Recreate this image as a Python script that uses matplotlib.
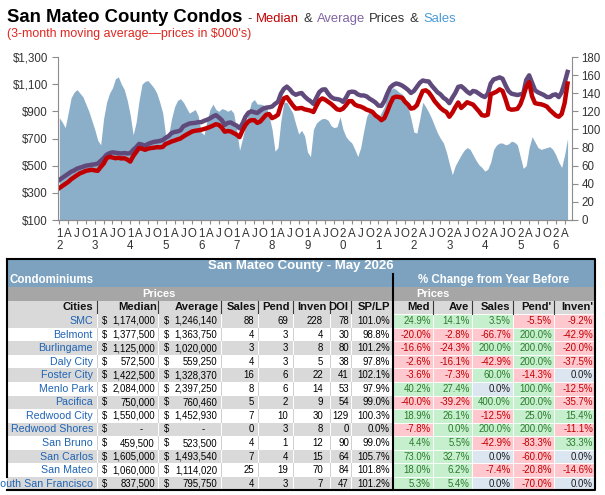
import matplotlib
matplotlib.use('Agg')
import matplotlib.pyplot as plt
from matplotlib import font_manager as fm
from matplotlib.patches import Rectangle
import numpy as np
import pandas as pd

plt.rcParams['font.family'] = ['Liberation Sans', 'DejaVu Sans']

# monthly 3-month moving averages, Jan 2012 .. May 2026
months = pd.date_range('2012-01-01', periods=173, freq='MS')
median_k = [
    335, 350, 365, 380, 400, 415, 430, 444, 452, 462, 466, 470,
    465, 462, 490, 515, 555, 565, 560, 555, 558, 553, 555, 545,
    530, 570, 600, 630, 625, 617, 625, 630, 632, 636, 635, 638,
    660, 668, 678, 685, 693, 700, 715, 728, 740, 752, 757, 760,
    764, 770, 777, 785, 795, 805, 800, 780, 750, 755, 752, 740,
    728, 710, 760, 800, 826, 835, 835, 815, 825, 850, 875, 880,
    850, 860, 875, 945, 995, 1005, 975, 945, 920, 922, 925, 915,
    910, 905, 895, 940, 980, 995, 985, 970, 955, 935, 915, 910,
    920, 945, 975, 975, 950, 940, 935, 925, 912, 905, 895, 870,
    855, 835, 850, 900, 955, 1000, 1008, 1005, 1000, 970, 950, 920,
    925, 945, 1000, 1050, 1055, 1040, 1010, 975, 950, 925, 907, 895,
    860, 890, 930, 965, 925, 945, 967, 958, 950, 925, 900, 872,
    868, 875, 1025, 1035, 1045, 1062, 1050, 990, 920, 912, 914, 918,
    950, 1010, 1080, 1115, 1010, 960, 955, 952, 945, 935, 910, 890,
    870, 860, 880, 960, 1105]
average_k = [
    395, 410, 425, 440, 455, 465, 478, 485, 492, 500, 503, 507,
    510, 515, 535, 555, 580, 592, 598, 595, 592, 590, 593, 590,
    592, 615, 635, 660, 655, 647, 660, 668, 675, 678, 682, 688,
    705, 718, 740, 748, 752, 760, 790, 800, 810, 813, 815, 820,
    820, 830, 838, 848, 862, 872, 855, 835, 800, 815, 818, 805,
    795, 775, 810, 860, 890, 900, 893, 888, 905, 920, 927, 930,
    935, 955, 970, 1030, 1065, 1082, 1062, 1035, 1022, 1030, 1035, 1010,
    990, 975, 955, 1000, 1042, 1060, 1062, 1030, 1005, 993, 990, 985,
    970, 1000, 1040, 1045, 1042, 1025, 1017, 1017, 1010, 993, 980, 965,
    942, 940, 975, 1030, 1075, 1095, 1105, 1100, 1090, 1075, 1058, 1035,
    1050, 1080, 1110, 1127, 1122, 1120, 1090, 1065, 1040, 1025, 1000, 985,
    960, 1000, 1035, 1080, 1085, 1067, 1045, 1030, 1050, 1045, 1030, 1015,
    1005, 1030, 1105, 1135, 1142, 1150, 1140, 1092, 1050, 1030, 1025, 1020,
    1025, 1030, 1130, 1165, 1110, 1055, 1040, 1030, 1020, 1005, 1005, 1020,
    1025, 1005, 1040, 1110, 1190]
sales = [
    113, 108, 102, 118, 135, 141, 144, 140, 136, 128, 120, 110,
    100, 88, 83, 112, 130, 140, 146, 156, 158, 150, 144, 132,
    116, 94, 108, 132, 150, 153, 154, 150, 146, 140, 130, 118,
    93, 94, 112, 125, 132, 134, 130, 124, 118, 120, 122, 115,
    97, 94, 110, 122, 128, 122, 120, 123, 122, 120, 122, 118,
    100, 77, 90, 104, 118, 130, 133, 128, 128, 127, 125, 115,
    100, 76, 80, 110, 130, 130, 124, 118, 106, 95, 99, 93,
    75, 70, 100, 107, 110, 112, 112, 110, 104, 102, 103, 114,
    100, 92, 88, 85, 78, 70, 80, 98, 114, 121, 119, 115,
    112, 119, 125, 136, 143, 146, 144, 141, 139, 135, 125, 112,
    97, 96, 112, 130, 125, 119, 112, 104, 96, 90, 85, 75,
    62, 50, 60, 66, 72, 77, 80, 78, 72, 66, 61, 58,
    54, 56, 64, 78, 83, 85, 85, 83, 84, 87, 86, 83,
    70, 57, 60, 80, 92, 86, 80, 78, 79, 80, 81, 78,
    72, 64, 58, 72, 90]
price_ticks = [100, 300, 500, 700, 900, 1100, 1300]
sales_ticks = [0, 20, 40, 60, 80, 100, 120, 140, 160, 180]
quarter_letters = {1: None, 4: 'A', 7: 'J', 10: 'O'}

# table for May 2026
cities = ['SMC', 'Belmont', 'Burlingame', 'Daly City', 'Foster City', 'Menlo Park',
          'Pacifica', 'Redwood City', 'Redwood Shores', 'San Bruno', 'San Carlos',
          'San Mateo', 'South San Francisco']
median_price = [1174000, 1377500, 1125000, 572500, 1422500, 2084000, 750000,
                1550000, None, 459500, 1605000, 1060000, 837500]
average_price = [1246140, 1363750, 1020000, 559250, 1328370, 2397250, 760460,
                 1452930, None, 523500, 1493540, 1114020, 795750]
sales_n = [88, 4, 3, 4, 16, 8, 5, 7, 0, 4, 7, 25, 4]
pend = [69, 3, 3, 3, 6, 6, 2, 10, 3, 1, 4, 19, 3]
inven = [228, 4, 8, 5, 22, 14, 9, 30, 8, 12, 15, 70, 7]
doi = [78, 30, 80, 38, 41, 53, 54, 129, 0, 90, 64, 84, 47]
sp_lp = [101.0, 98.8, 101.2, 97.8, 102.1, 97.9, 99.0, 100.3, 0.0, 99.0, 105.7, 101.8, 101.2]
chg_med = [24.9, -20.0, -16.6, -2.6, -3.6, 40.2, -40.0, 18.9, -7.8, 4.4, 73.0, 18.0, 5.3]
chg_ave = [14.1, -2.8, -24.3, -16.1, -7.3, 27.4, -39.2, 26.1, 0.0, 5.5, 32.7, 6.2, 5.4]
chg_sales = [3.5, -66.7, 200.0, -42.9, 60.0, 0.0, 400.0, -12.5, 200.0, -42.9, 0.0, -7.4, 0.0]
chg_pend = [-5.5, 200.0, 200.0, 200.0, -14.3, 100.0, 200.0, 25.0, 200.0, -83.3, -60.0, -20.8, -70.0]
chg_inven = [-9.2, -42.9, -20.0, -37.5, 0.0, -12.5, -35.7, 15.4, -11.1, 33.3, 0.0, -14.6, 0.0]
zero_as_up = [(8, 1)]  # Redwood Shores / Ave shows green

# narrow font for the numbers if we have it
try:
    fm.findfont(fm.FontProperties(family='Liberation Sans Narrow'), fallback_to_default=False)
    NARROW, NUM_SIZE = ['Liberation Sans Narrow', 'DejaVu Sans'], 8.2
except ValueError:
    NARROW, NUM_SIZE = ['Liberation Sans', 'DejaVu Sans'], 6.9

W, H = 605, 495
fig = plt.figure(figsize=(W / 100, H / 100), dpi=100)

def fx(px):
    return px / W

def fy(py):
    return 1 - py / H

# ---- table (drawn in pixel coords) ----
tab = fig.add_axes([0, 0, 1, 1])
tab.set_xlim(0, W)
tab.set_ylim(H, 0)
tab.axis('off')
tab.patch.set_visible(False)
tab.set_zorder(-1)

BLUE_BG = '#7ca2bf'
GREY_BG = '#a6a6a6'
LIGHT_BG = '#d9d9d9'
X0, XM, X1 = 7, 393, 595
TOP, TITLE_H, ROW_H = 258.5, 15, 13.56
left_cols = [7, 97, 158, 221, 258, 293, 330, 351, 393]
right_cols = [393, 433, 472, 513, 554, 595]

def row_top(i):
    return TOP + TITLE_H + i * ROW_H

def rect(x0, y0, x1, y1, fc, ec='none', lw=0):
    tab.add_patch(Rectangle((x0, y0), x1 - x0, y1 - y0, fc=fc, ec=ec, lw=lw))

rect(X0, TOP, X1, TOP + TITLE_H, BLUE_BG)
rect(X0, row_top(0), X1, row_top(1), BLUE_BG)
rect(X0, row_top(1), X1, row_top(2), GREY_BG)
rect(X0, row_top(2), X1, row_top(3), LIGHT_BG)

tab.text((X0 + X1) / 2, TOP + TITLE_H / 2 + 0.5, 'San Mateo County - May 2026', ha='center',
         va='center', color='white', fontweight='bold', fontsize=9.5)
tab.text(10, row_top(0) + ROW_H / 2, 'Condominiums', ha='left', va='center',
         color='white', fontweight='bold', fontsize=8.3)
tab.text((XM + X1) / 2, row_top(0) + ROW_H / 2, '% Change from Year Before', ha='center',
         va='center', color='white', fontweight='bold', fontsize=8.3)
tab.text(159, row_top(1) + ROW_H / 2, 'Prices', ha='center', va='center',
         color='white', fontweight='bold', fontsize=8)
tab.text(433, row_top(1) + ROW_H / 2, 'Prices', ha='center', va='center',
         color='white', fontweight='bold', fontsize=8)

headers_left = [('Cities', 93), ('Median', 157), ('Average', 219), ('Sales', 256),
                ('Pend', 290), ('Inven', 327), ('DOI', 348), ('SP/LP', 390)]
headers_right = [('Med', 430), ('Ave', 469), ('Sales', 510), ("Pend'", 551), ("Inven'", 593)]
yh = row_top(2) + ROW_H / 2
for s, xr in headers_left + headers_right:
    tab.text(xr, yh, s, ha='right', va='center', fontweight='bold', fontsize=8.1, color='#111111')
for xv in left_cols[1:-1] + right_cols[1:-1]:
    tab.plot([xv, xv], [row_top(2), row_top(3)], color='#3a3a3a', lw=0.8)

changes = [chg_med, chg_ave, chg_sales, chg_pend, chg_inven]
for r, city in enumerate(cities):
    y0 = row_top(3 + r)
    y1 = y0 + ROW_H
    yc = (y0 + y1) / 2
    bg = LIGHT_BG if r % 2 == 0 else 'white'
    rect(X0, y0, XM, y1, bg)
    sep = 'white' if r % 2 == 0 else '#cfcfcf'
    for xv in left_cols[1:-1]:
        tab.plot([xv, xv], [y0, y1], color=sep, lw=0.7)
    tab.text(93, yc, city, ha='right', va='center', color='#1f64b4', fontsize=7.7)
    for xd, xv, val in [(102, 155, median_price[r]), (164, 217, average_price[r])]:
        tab.text(xd, yc, '$', ha='left', va='center', family=NARROW, fontsize=NUM_SIZE)
        if val is None:
            tab.text(xv - 12, yc, '-', ha='right', va='center', family=NARROW, fontsize=NUM_SIZE)
        else:
            tab.text(xv, yc, f'{val:,}', ha='right', va='center', family=NARROW, fontsize=NUM_SIZE)
    for xv, val in [(254, sales_n[r]), (288, pend[r]), (323, inven[r]), (349, doi[r])]:
        tab.text(xv, yc, str(val), ha='right', va='center', family=NARROW, fontsize=NUM_SIZE)
    tab.text(390, yc, f'{sp_lp[r]:.1f}%', ha='right', va='center', family=NARROW, fontsize=NUM_SIZE)
    for c, series in enumerate(changes):
        v = series[r]
        if v > 0 or (r, c) in zero_as_up:
            fc, tc = '#c6efce', '#2b7a2b'
        elif v < 0:
            fc, tc = '#ffc7ce', '#c00000'
        else:
            fc, tc = '#dce6f1', '#1a1a1a'
        rect(right_cols[c], y0, right_cols[c + 1], y1, fc, ec='white', lw=0.6)
        tab.text(right_cols[c + 1] - 2, yc, f'{v:.1f}%', ha='right', va='center',
                 family=NARROW, fontsize=NUM_SIZE, color=tc)

bottom = row_top(3 + len(cities))
tab.plot([X0, X1, X1, X0], [TOP, TOP, bottom, bottom], color='black', lw=1.5)
tab.plot([X0, X0], [TOP, row_top(3 + len(cities) - 1)], color='black', lw=1.5)
tab.plot([XM, XM], [row_top(0), bottom], color='black', lw=1.5)

# ---- chart ----
ax = fig.add_axes([fx(57.7), fy(220), fx(571.7) - fx(57.7), (220 - 57) / H])
ax2 = ax.twinx()
x = np.arange(len(months))
ax2.fill_between(x, sales, 0, color='#8baec9', lw=0)
ax.plot(x, average_k, color='#604a7b', lw=3.2, solid_joinstyle='round')
ax.plot(x, median_k, color='#c00000', lw=3.2, solid_joinstyle='round')
ax.set_zorder(ax2.get_zorder() + 1)
ax.patch.set_visible(False)

ax.set_xlim(-0.54, 173.4)
ax.set_ylim(100, 1300)
ax2.set_ylim(0, 180)
ax.set_yticks(price_ticks)
ax.set_yticklabels([f'${v:,}' for v in price_ticks])
ax2.set_yticks(sales_ticks)

qpos, qlab = [], []
for i, d in enumerate(months):
    if d.month in quarter_letters:
        qpos.append(i)
        if d.month == 1:
            qlab.append(f'{(d.year // 10) % 10}\n{d.year % 10}')
        else:
            qlab.append(quarter_letters[d.month])
ax.set_xticks(qpos)
ax.set_xticklabels(qlab)
for t in ax.get_xticklabels():
    t.set_linespacing(0.95)

for a in (ax, ax2):
    a.spines['top'].set_visible(False)
    for s in ('left', 'right', 'bottom'):
        a.spines[s].set_color('#8c8c8c')
        a.spines[s].set_linewidth(0.8)
    a.tick_params(colors='#8c8c8c', labelcolor='#333333', labelsize=8.3, width=0.8)
ax.spines['right'].set_visible(False)
ax2.spines['left'].set_visible(False)
ax.tick_params(axis='y', length=4, pad=3)
ax2.tick_params(axis='y', length=4, pad=3)
ax.tick_params(axis='x', length=3, pad=3)

# ---- titles ----
renderer = fig.canvas.get_renderer()
segments = [('San Mateo County Condos', 'black', 'bold', 13.3, 5),
            ('-', '#333333', 'normal', 9.4, 4),
            ('Median', '#c00000', 'normal', 9.4, 4.5),
            ('&', '#333333', 'normal', 9.4, 4.5),
            ('Average', '#8064a2', 'normal', 9.4, 4.5),
            ('Prices', '#333333', 'normal', 9.4, 4.5),
            ('&', '#333333', 'normal', 9.4, 4.5),
            ('Sales', '#4a9bd6', 'normal', 9.4, 0)]
xpos = 7
for s, col, wt, size, gap in segments:
    t = fig.text(fx(xpos), fy(22), s, color=col, fontweight=wt, fontsize=size, va='baseline')
    xpos = t.get_window_extent(renderer=renderer).x1 + gap
fig.text(fx(7), fy(36.5), "(3-month moving average\u2014prices in $000's)", color='#e0261f',
         fontsize=8.9, va='baseline')

fig.savefig('out.png', dpi=100)
